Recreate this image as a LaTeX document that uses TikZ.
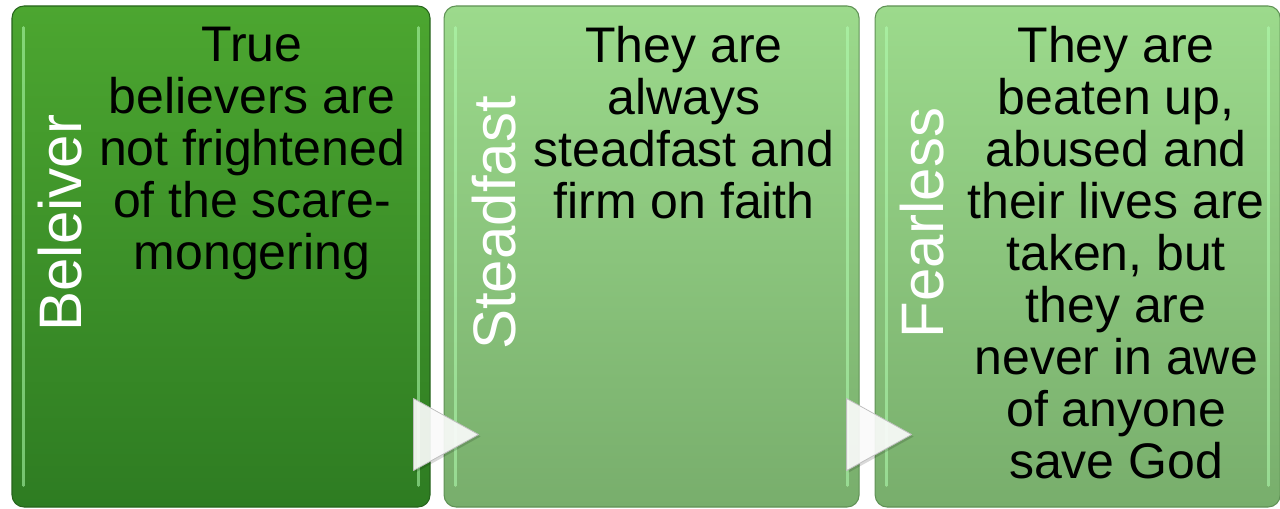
\documentclass[tikz,border=0pt]{standalone}
\usepackage{fontspec}
\setmainfont{Liberation Sans}
\usepackage{tikz}
\usetikzlibrary{positioning,calc}

\definecolor{darktop}{RGB}{76,166,48}
\definecolor{darkbot}{RGB}{46,124,34}
\definecolor{darkedge}{RGB}{38,100,28}
\definecolor{lighttop}{RGB}{156,218,140}
\definecolor{lightbot}{RGB}{120,174,108}
\definecolor{lightedge}{RGB}{96,146,86}

\begin{document}
\begin{tikzpicture}[x=0.75pt, y=0.75pt,
    box/.style={rectangle, draw, line width=0.8pt, rounded corners=9pt, minimum height=375.75pt, inner sep=0pt},
    darkbox/.style={box, draw=darkedge, top color=darktop, bottom color=darkbot},
    lightbox/.style={box, draw=lightedge, top color=lighttop, bottom color=lightbot},
    lbl/.style={rotate=90, anchor=base, inner sep=0pt, text=white, font=\fontsize{45}{48}\selectfont},
    body/.style={anchor=north, inner sep=0pt, align=center, font=\fontsize{37.5}{39}\selectfont},
    hilite/.style={draw=green!30!white, opacity=0.55, line width=2pt, line cap=round},
    tri/.style={fill=white, fill opacity=0.9, draw=black!25, line width=0.6pt, line join=round}]
    \useasboundingbox (0,0) rectangle (1280,508);

    % Boxes
    \node [darkbox, minimum width=313.5pt] (b1) at (221,251.5) {};
    \node [lightbox, minimum width=311.25pt, right=9.75pt of b1] (b2) {};
    \node [lightbox, minimum width=303.75pt, right=11.25pt of b2] (b3) {};

    % Edge highlights
    \foreach \b in {b1,b2,b3} {
        \draw [hilite] ($(\b.north west)+(12,-22)$) -- ($(\b.south west)+(12,22)$);
        \draw [hilite] ($(\b.north east)+(-12,-22)$) -- ($(\b.south east)+(-12,22)$);
    }

    % Arrows between boxes
    \coordinate (t1) at ($(b1.south east)+(48,73)$);
    \coordinate (t2) at ($(b2.south east)+(52,73)$);
    \fill [black, opacity=0.15] ($(t1)+(2,-2)$) -- ++(-65,36) -- ++(0,-72) -- cycle;
    \fill [black, opacity=0.15] ($(t2)+(2,-2)$) -- ++(-65,36) -- ++(0,-72) -- cycle;
    \draw [tri] (t1) -- ++(-65,36) -- ++(0,-72) -- cycle;
    \draw [tri] (t2) -- ++(-65,36) -- ++(0,-72) -- cycle;

    % Row 1: Beleiver
    \node [lbl] (l1) at ($(b1.west)+(70,33.5)$) {Beleiver};
    \node [body] (d1) at ($(b1.north)+(31,-21)$) {True\\believers are\\not frightened\\of the scare-\\mongering};

    % Row 2: Steadfast
    \node [lbl] (l2) at ($(b2.west)+(72,33.5)$) {Steadfast};
    \node [body] (d2) at ($(b2.north)+(32.5,-21)$) {They are\\always\\steadfast and\\firm on faith};

    % Row 3: Fearless
    \node [lbl] (l3) at ($(b3.west)+(69,33.5)$) {Fearless};
    \node [body] (d3) at ($(b3.north)+(38.5,-21)$) {They are\\beaten up,\\abused and\\their lives are\\taken, but\\they are\\never in awe\\of anyone\\save God};
\end{tikzpicture}
\end{document}
